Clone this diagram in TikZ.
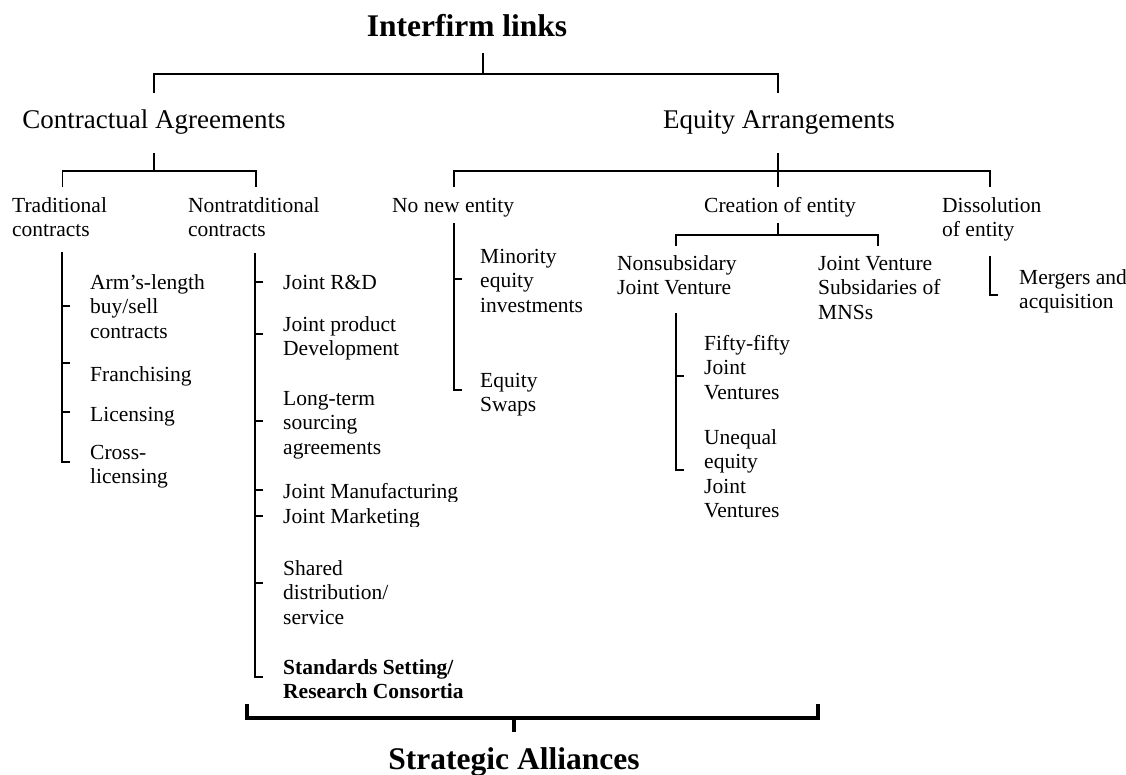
\documentclass[tikz,border=0pt]{standalone}
\usepackage{fontspec}
\setmainfont{Liberation Serif}
\newcommand\stack[1]{\begin{tabular}[t]{@{}l@{}}#1\end{tabular}}
\begin{document}
\begin{tikzpicture}[x=1pt,y=-1pt,
  txt/.style={anchor=base west, inner sep=0pt, font=\fontsize{21.5}{24.5}\selectfont},
  head/.style={anchor=base, inner sep=0pt, font=\fontsize{27}{30}\selectfont},
  ttl/.style={anchor=base, inner sep=0pt, font=\fontsize{31.5}{34}\selectfont\bfseries},
  bar/.style={line width=1.8pt},
  rail/.style={line width=2.4pt},
  tick/.style={line width=1.5pt},
  brace/.style={line width=3.5pt}]
\useasboundingbox (0,0) rectangle (1126,774);

% ---- headings
\node[ttl]  (links)  at (467,36)  {Interfirm links};
\node[head] (contr)  at (154,128) {Contractual Agreements};
\node[head] (equity) at (779,128) {Equity Arrangements};

% ---- second level
\node[txt] (trad)   at (12,212)  {\stack{Traditional\\contracts}};
\node[txt] (nontr)  at (188,212) {\stack{Nontratditional\\contracts}};
\node[txt] (nonew)  at (392,212) {No new entity};
\node[txt] (creat)  at (704,212) {Creation of entity};
\node[txt] (dissol) at (942,212) {\stack{Dissolution\\of entity}};

% ---- traditional contracts
\node[txt] (arms)  at (90,289) {\stack{Arm’s-length\\buy/sell\\contracts}};
\node[txt] (franc) at (90,381) {Franchising};
\node[txt] (licen) at (90,421) {Licensing};
\node[txt] (cross) at (90,459) {\stack{Cross-\\licensing}};

% ---- nontraditional contracts
\node[txt] (jrd)   at (283,289) {Joint R\&D};
\node[txt] (jpd)   at (283,331) {\stack{Joint product\\Development}};
\node[txt] (lts)   at (283,405) {\stack{Long-term\\sourcing\\agreements}};
\begin{scope}
  \clip (275,470) rectangle (480,501);
  \node[txt] (jman) at (283,498) {Joint Manufacturing};
\end{scope}
\begin{scope}
  \clip (275,503) rectangle (480,526);
  \node[txt] (jmar) at (283,523) {Joint Marketing};
\end{scope}
\node[txt] (shd)   at (283,575) {\stack{Shared\\distribution/\\service}};
\node[txt] (std)   at (283,674) {\stack{\bfseries Standards Setting/\\\bfseries Research Consortia}};

% ---- no new entity
\node[txt] (minor) at (480,263) {\stack{Minority\\equity\\investments}};
\node[txt] (swap)  at (480,387) {\stack{Equity\\Swaps}};

% ---- creation of entity
\node[txt] (nsjv)  at (617,270) {\stack{Nonsubsidary\\Joint Venture}};
\node[txt] (jvs)   at (818,270) {\stack{Joint Venture\\Subsidaries of\\MNSs}};
\node[txt] (fifty) at (704,350) {\stack{Fifty-fifty\\Joint\\Ventures}};
\node[txt] (uneq)  at (704,444) {\stack{Unequal\\equity\\Joint\\Ventures}};

% ---- dissolution of entity
\node[txt] (merg)  at (1019,284) {\stack{Mergers and\\acquisition}};

% ---- strategic alliances
\node[ttl] (strat) at (514,769) {Strategic Alliances};

% ---- junction points
\coordinate (tA) at (483,53);   \coordinate (tB) at (483,74);
\coordinate (cA) at (154,153);  \coordinate (cB) at (154,171);
\coordinate (eA) at (778,153);  \coordinate (eB) at (778,187);
\coordinate (kA) at (778,223);  \coordinate (kB) at (778,235);
\coordinate (sA) at (514,718);  \coordinate (sB) at (514,732);

% ---- tree connectors
\draw[bar] (tA) -- (tB);
\draw[bar] (154,93) -- (154,74) -- (778,74) -- (778,93);
\draw[bar] (cA) -- (cB);
\draw[bar] (62.5,187) -- (62.5,171) -- (256,171) -- (256,187);
\draw[bar] (eA) -- (eB);
\draw[bar] (454,187) -- (454,171) -- (990,171) -- (990,187);
\draw[bar] (kA) -- (kB);
\draw[bar] (676,246) -- (676,235) -- (878,235) -- (878,246);

% ---- list rails with ticks
\draw[rail] (62,252) -- (62,462) -- (70,462);
\foreach \y in {306,363,412} \draw[tick] (62,\y) -- (70,\y);

\draw[rail] (255,253) -- (255,677) -- (263,677);
\foreach \y in {282,334,421,490,516,583} \draw[tick] (255,\y) -- (263,\y);

\draw[rail] (454,223) -- (454,390) -- (462,390);
\draw[tick] (454,279) -- (462,279);

\draw[rail] (676,313) -- (676,470) -- (684,470);
\draw[tick] (676,376) -- (684,376);

\draw[rail] (990,256) -- (990,295) -- (998,295);

% ---- strategic alliances bracket
\draw[brace] (247,704) -- (247,718) -- (818,718) -- (818,704);
\draw[brace] (sA) -- (sB);
\end{tikzpicture}
\end{document}
